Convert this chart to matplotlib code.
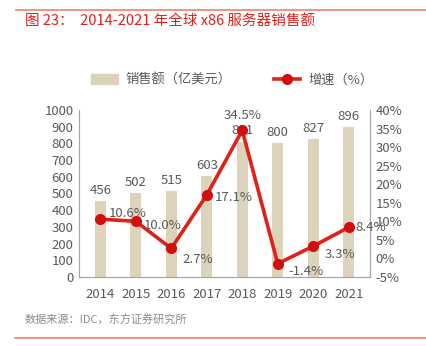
import matplotlib
matplotlib.use("Agg")
import matplotlib.pyplot as plt
from matplotlib.lines import Line2D

plt.rcParams['font.family'] = ['Noto Sans CJK SC', 'DejaVu Sans']

years = ["2014", "2015", "2016", "2017", "2018", "2019", "2020", "2021"]
sales = [456, 502, 515, 603, 811, 800, 827, 896]
growth = [10.6, 10.0, 2.7, 17.1, 34.5, -1.4, 3.3, 8.4]

BAR = "#DDD3BA"
RED = "#E0201A"
GREY = "#595959"

fig = plt.figure(figsize=(4.26, 3.46), dpi=100)
ax = fig.add_axes([79 / 426, 1 - 277 / 346, (370 - 79) / 426, (277 - 110) / 346])
ax2 = ax.twinx()

x = range(len(years))
ax.bar(x, sales, width=0.32, color=BAR, zorder=1)
for i, v in enumerate(sales):
  ax.text(i, v + 25, str(v), ha='center', va='bottom', fontsize=9.5, color=GREY)

ax2.plot(x, growth, color=RED, lw=2.6, marker='o', ms=7, mfc="#D01010", mec="#D01010", zorder=3)

# label offsets in points
offs = [(6, 4), (6, -3), (8, -8), (6, -2), (0, 11), (8, -6), (8, -6), (5, 0)]
for i, (v, (dx, dy)) in enumerate(zip(growth, offs)):
  ha = 'center' if i == 4 else 'left'
  ax2.annotate("{:.1f}%".format(v), (i, v), xytext=(dx, dy), textcoords='offset points',
               ha=ha, va='center', fontsize=9.5, color=GREY)

ax.set_ylim(0, 1000)
ax.set_yticks(range(0, 1001, 100))
ax2.set_ylim(-5, 40)
ax2.set_yticks(range(-5, 41, 5))
ax2.set_yticklabels(["{}%".format(t) for t in range(-5, 41, 5)])
ax.set_xlim(-0.6, 7.6)
ax.set_xticks(list(x))
ax.set_xticklabels(years)

for a in (ax, ax2):
  a.tick_params(length=0, labelsize=9.5, colors=GREY, pad=4)
  a.spines['top'].set_visible(False)
  for s in ('left', 'right', 'bottom'):
    a.spines[s].set_color("#A6A6A6")
ax.tick_params(axis='x', pad=8)

handles = [plt.Rectangle((0, 0), 1, 1, color=BAR),
           Line2D([0], [0], color=RED, lw=2.6, marker='o', ms=7, mfc="#D01010", mec="#D01010")]
fig.legend(handles, ["销售额（亿美元）", "增速（%）"], loc='center', bbox_to_anchor=(0.545, 1 - 80 / 346),
           ncol=2, frameon=False, fontsize=9.5, labelcolor=GREY, handlelength=2.0, columnspacing=3.2,
           handletextpad=0.6)

fig.add_artist(Line2D([16 / 426, 1], [1 - 10 / 346] * 2, color="#F08070", lw=1.2))
fig.add_artist(Line2D([15 / 426, 1], [1 - 338 / 346] * 2, color="#F08070", lw=1.2))
fig.text(25 / 426, 1 - 21 / 346, "图 23：  2014-2021 年全球 x86 服务器销售额", color="#E0201A",
         fontsize=10.5, va='center')
fig.text(25 / 426, 1 - 320 / 346, "数据来源：IDC，东方证券研究所", color="#8C8C8C", fontsize=8, va='center')

fig.savefig("out.png", dpi=100)
